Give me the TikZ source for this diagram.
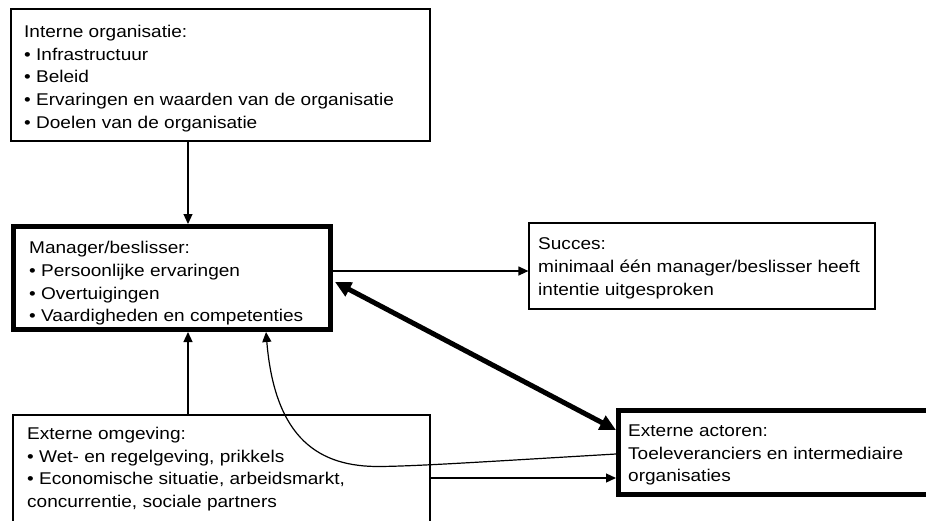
\documentclass[tikz,border=0pt]{standalone}
\usepackage{fontspec}
\setmainfont{Liberation Sans}[FakeStretch=1.12]
\usetikzlibrary{arrows.meta,calc}

\begin{document}
\begin{tikzpicture}[x=1pt,y=-1pt,
  box/.style={draw, line width=1.2pt, rectangle, inner sep=0pt},
  heavybox/.style={draw, line width=5pt, rectangle, inner sep=0pt},
  txt/.style={anchor=north west, align=left, inner sep=0pt,
    font=\fontsize{17}{22.75}\selectfont},
  thinarrow/.style={line width=1.2pt, -{Triangle[length=10pt,width=9pt]}},
  heavyarrow/.style={line width=5pt,
    {Triangle[length=16pt,width=15pt]}-{Triangle[length=16pt,width=15pt]}},
]
\clip (0,0) rectangle (926,520);
\fill[white] (0,0) rectangle (926,520);

% boxes
\node[box, minimum width=419pt, minimum height=132pt] (intern) at (220.5,75) {};
\node[heavybox, minimum width=317pt, minimum height=103pt] (mgr) at (172,278) {};
\node[box, minimum width=346pt, minimum height=86pt] (succ) at (702,266) {};
\node[box, minimum width=417pt, minimum height=120pt] (omg) at (221.5,475) {};
\node[heavybox, minimum width=316.5pt, minimum height=84pt] (act) at (776.75,452.5) {};

% box texts
\node[txt] (tintern) at (24,24.8) {Interne organisatie:\\
  • Infrastructuur\\
  • Beleid\\
  • Ervaringen en waarden van de organisatie\\
  • Doelen van de organisatie};
\node[txt] (tmgr) at (29,241.1) {Manager/beslisser:\\
  • Persoonlijke ervaringen\\
  • Overtuigingen\\
  • Vaardigheden en competenties};
\node[txt] (tsucc) at (538,237.8) {Succes:\\
  minimaal één manager/beslisser heeft\\
  intentie uitgesproken};
\node[txt] (tomg) at (27,426.8) {Externe omgeving:\\
  • Wet- en regelgeving, prikkels\\
  • Economische situatie, arbeidsmarkt,\\
  concurrentie, sociale partners};
\node[txt] (tact) at (628,424.5) {Externe actoren:\\
  Toeleveranciers en intermediaire\\
  organisaties};

% reference coordinates for connector positions
\coordinate (vx) at (188,0);
\coordinate (hy1) at (0,271);
\coordinate (hy2) at (0,478);
\coordinate (dy1) at (0,282);
\coordinate (dy2) at (0,430);
\coordinate (cy) at (0,454);
\coordinate (cx) at (266,0);

% connectors
\draw[thinarrow] (intern.south -| vx) -- (mgr.north -| vx);
\draw[thinarrow] (mgr.east |- hy1) -- (succ.west |- hy1);
\draw[thinarrow] (omg.north -| vx) -- (mgr.south -| vx);
\draw[thinarrow] (omg.east |- hy2) -- (act.west |- hy2);
\draw[heavyarrow] ($(mgr.east |- dy1)+(2,0)$) -- (act.west |- dy2);
\draw[thinarrow] (act.west |- cy) .. controls (480,462) and (420,466) .. (380,466.5)
  .. controls (320,467) and (275,440) .. (mgr.south -| cx);
\end{tikzpicture}
\end{document}
